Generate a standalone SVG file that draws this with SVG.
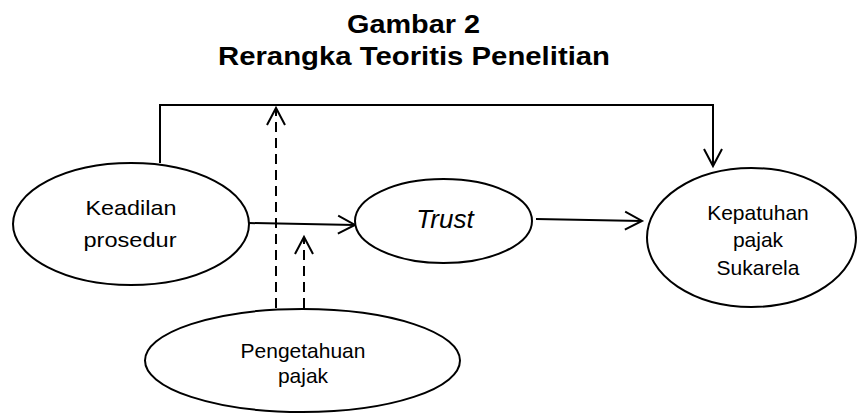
<svg xmlns="http://www.w3.org/2000/svg" width="860" height="414" viewBox="0 0 860 414">
<defs>
<style>
.node{fill:#fff;stroke:#000;stroke-width:2}
.t{font-family:"Liberation Sans",Arial,sans-serif;font-size:21px;fill:#000;text-anchor:middle}
.title{font-family:"Liberation Sans",Arial,sans-serif;font-size:25px;font-weight:bold;fill:#000;text-anchor:middle}
.c{fill:none;stroke:#000;stroke-width:2}
.d{stroke-dasharray:10 6}
</style>
<marker id="ah" markerUnits="userSpaceOnUse" markerWidth="24" markerHeight="24" viewBox="-20 -12 24 24" refX="0" refY="0" orient="auto">
<path d="M-17,-9 L0,0 L-17,9" fill="none" stroke="#000" stroke-width="2"/>
</marker>
</defs>
<rect width="860" height="414" fill="#fff"/>
<g id="title">
<text class="title" x="413.5" y="33" textLength="133" lengthAdjust="spacingAndGlyphs">Gambar 2</text>
<text class="title" x="414" y="65" textLength="392" lengthAdjust="spacingAndGlyphs">Rerangka Teoritis Penelitian</text>
</g>
<g id="connectors">
<path class="c" d="M160,163 V105 H713 V166" marker-end="url(#ah)"/>
<path class="c" d="M249,223 L355,225" marker-end="url(#ah)"/>
<path class="c" d="M536,219 L642,221" marker-end="url(#ah)"/>
<path class="c d" d="M276,308 V108" marker-end="url(#ah)"/>
<path class="c d" d="M304,308 V237" marker-end="url(#ah)"/>
</g>
<g id="keadilan">
<ellipse class="node" cx="131" cy="224" rx="118" ry="61"/>
<text class="t" x="131" y="215" textLength="91" lengthAdjust="spacingAndGlyphs">Keadilan</text>
<text class="t" x="130" y="247" textLength="93" lengthAdjust="spacingAndGlyphs">prosedur</text>
</g>
<g id="trust">
<ellipse class="node" cx="443.5" cy="221" rx="88.5" ry="42"/>
<text class="t" x="445" y="228" style="font-size:26px;font-style:italic">Trust</text>
</g>
<g id="kepatuhan">
<ellipse class="node" cx="751.5" cy="237.5" rx="104.5" ry="69.5"/>
<text class="t" x="758" y="220">Kepatuhan</text>
<text class="t" x="758" y="247">pajak</text>
<text class="t" x="758" y="275">Sukarela</text>
</g>
<g id="pengetahuan">
<ellipse class="node" cx="302.5" cy="360.5" rx="157.5" ry="51.5"/>
<text class="t" x="303" y="358">Pengetahuan</text>
<text class="t" x="303" y="383">pajak</text>
</g>
</svg>
